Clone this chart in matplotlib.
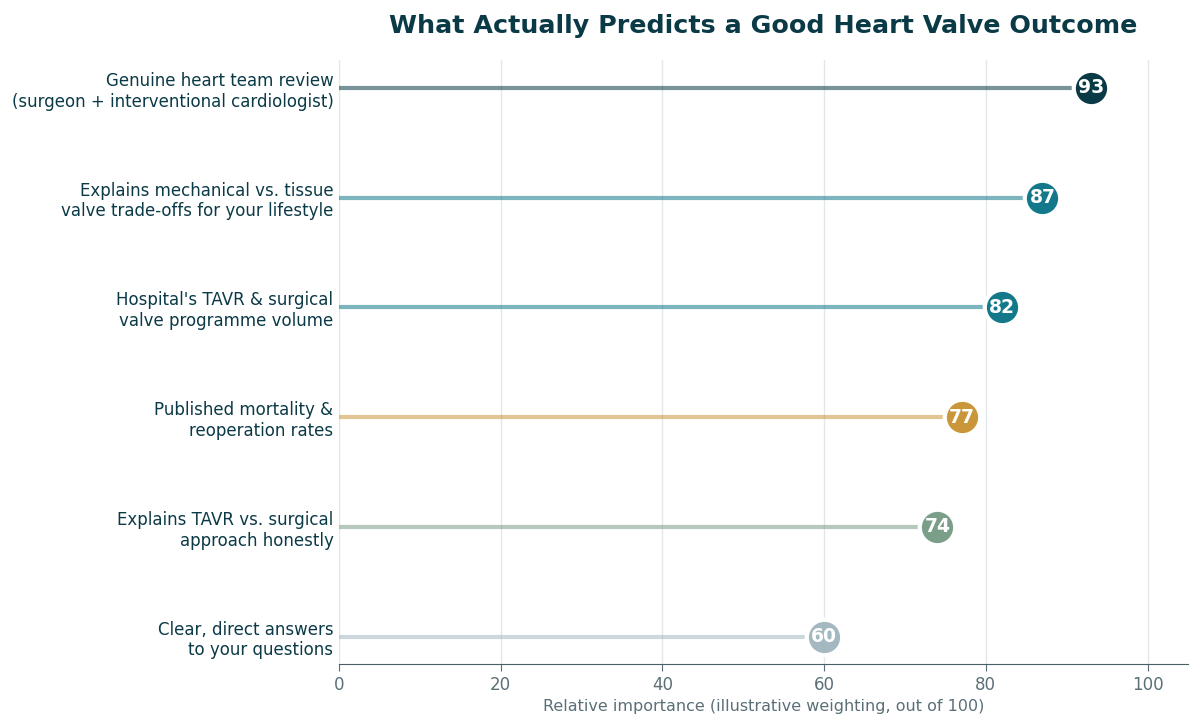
import matplotlib.pyplot as plt

labels = [
    "Genuine heart team review\n(surgeon + interventional cardiologist)",
    "Explains mechanical vs. tissue\nvalve trade-offs for your lifestyle",
    "Hospital's TAVR & surgical\nvalve programme volume",
    "Published mortality &\nreoperation rates",
    "Explains TAVR vs. surgical\napproach honestly",
    "Clear, direct answers\nto your questions",
]
scores = [93, 87, 82, 77, 74, 60]
colors = ["#0b3a47", "#13788a", "#13788a", "#c9963a", "#7a9e88", "#a3b8c0"]

navy = "#0b3a47"
gray = "#5a6f78"

fig, ax = plt.subplots(figsize=(12, 7.28), dpi=100)
fig.subplots_adjust(left=0.2825, right=0.99, top=0.917, bottom=0.088)

ypos = list(range(len(labels)))[::-1]

for y, v, c in zip(ypos, scores, colors):
    ax.plot([0, v], [y, y], color=c, alpha=0.55, lw=3, solid_capstyle="butt", zorder=2)
    ax.plot(v, y, "o", ms=25.5, color=c, mec="white", mew=3, zorder=3)
    ax.text(v, y, str(v), ha="center", va="center", color="white",
            fontsize=13.5, fontweight="bold", zorder=4)

ax.set_yticks(ypos)
ax.set_yticklabels(labels, fontsize=12, color=navy)
ax.tick_params(axis="y", length=0, pad=4)
ax.tick_params(axis="x", colors=gray, labelsize=12, length=5)
ax.set_xlim(0, 105)
ax.set_ylim(-0.25, 5.25)
ax.set_xticks([0, 20, 40, 60, 80, 100])
ax.grid(axis="x", color="#e2e7ea", lw=1)
ax.set_axisbelow(True)

for s in ["top", "right", "left"]:
    ax.spines[s].set_visible(False)
ax.spines["bottom"].set_color("#4a5f68")

ax.set_xlabel("Relative importance (illustrative weighting, out of 100)",
              fontsize=11.5, color=gray)
ax.set_title("What Actually Predicts a Good Heart Valve Outcome",
             fontsize=18.25, fontweight="bold", color=navy, pad=20)

plt.savefig("out.png")
